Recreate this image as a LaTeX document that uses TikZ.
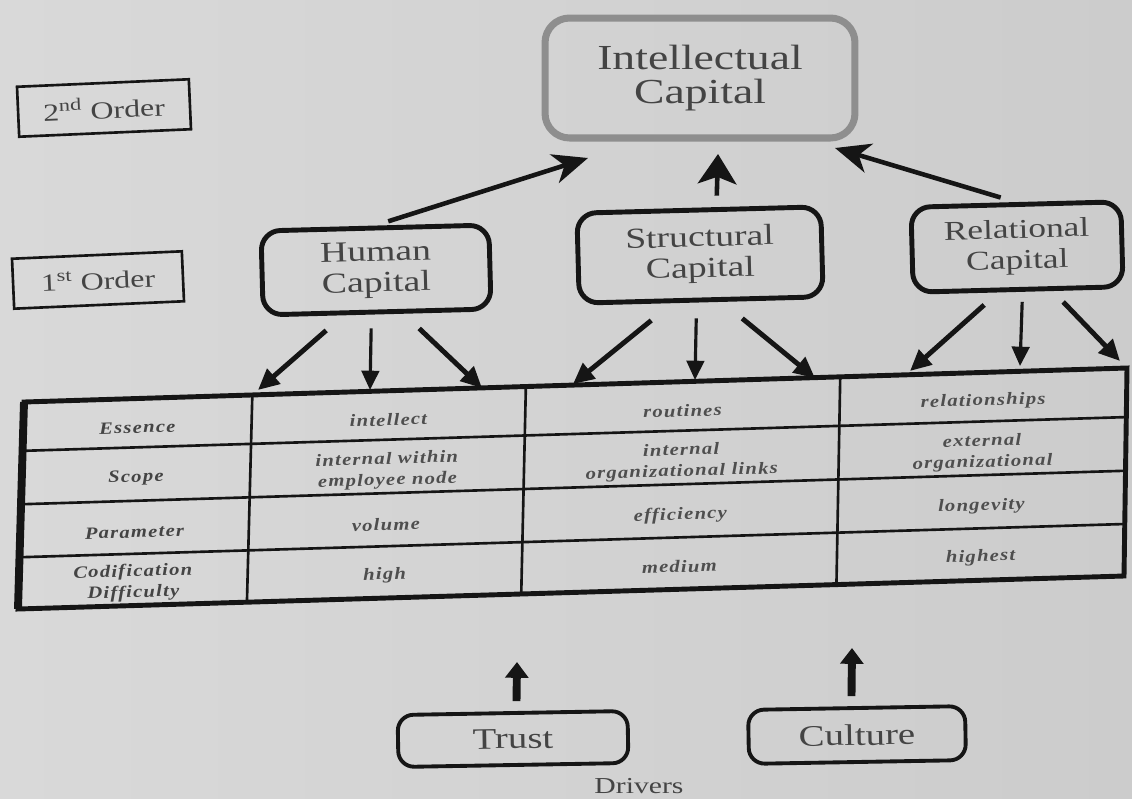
\documentclass[tikz,border=0pt]{standalone}
\usepackage{fontspec}
\newfontfamily\boxfont{Liberation Serif}[FakeStretch=1.3]
\newfontfamily\tabfont{Liberation Serif}[FakeStretch=1.2,LetterSpace=7]
\usetikzlibrary{arrows.meta,calc}
\definecolor{paperL}{HTML}{D9D9D9}
\definecolor{paperR}{HTML}{CCCCCC}
\definecolor{ink}{HTML}{151515}
\definecolor{txt}{HTML}{444444}
\definecolor{tabtxt}{HTML}{4E4E4E}
\definecolor{icgray}{HTML}{8E8E8E}
\tikzset{
  topbox/.style={draw=icgray, line width=4pt, rounded corners=14pt, text=txt,
    font=\boxfont\fontsize{20}{19}\selectfont, align=center, inner sep=0pt},
  lvlbox/.style={draw=ink, line width=2.8pt, rounded corners=11pt, text=txt,
    font=\boxfont\fontsize{16.5}{17.5}\selectfont, align=center, inner sep=0pt, rotate=1.5},
  orderbox/.style={draw=ink, line width=1.5pt, text=txt,
    font=\boxfont\fontsize{14}{16}\selectfont, inner sep=0pt, rotate=2.5},
  drvbox/.style={draw=ink, line width=2.2pt, rounded corners=9pt, text=txt,
    font=\boxfont\fontsize{17}{19}\selectfont, inner sep=0pt, rotate=1},
  uparr/.style={draw=ink, line width=2.6pt, -{Stealth[length=20pt,width=17pt,inset=6pt]}},
  bigup/.style={draw=ink, line width=2.6pt, -{Stealth[length=17pt,width=22pt,inset=4pt]}},
  darr/.style={draw=ink, line width=2.8pt, -{Triangle[length=12pt,width=11pt]}},
  vdarr/.style={draw=ink, line width=1.8pt, -{Triangle[length=11pt,width=10pt]}},
  drvarr/.style={draw=ink, line width=4.5pt, -{Triangle[length=9pt,width=13pt]}},
  outerline/.style={draw=ink, line width=2.8pt, line join=miter},
  innerline/.style={draw=ink, line width=1.5pt},
  cell/.style={font=\tabfont\bfseries\itshape\fontsize{9.8}{12}\selectfont,
    text=tabtxt, align=center, rotate=1.7, inner sep=0pt},
  label/.style={cell, text=ink!80},
}
\begin{document}
\begin{tikzpicture}[x=0.02cm, y={(0cm,-0.02cm)}]
  % paper
  \shade[left color=paperL, right color=paperR] (0,0) rectangle (1132,798);
  \useasboundingbox (0,0) rectangle (1132,798);

  % levels
  \node[orderbox, minimum width=3.44cm, minimum height=1.0cm] (o2) at (104,108)
    {2\textsuperscript{nd} Order};
  \node[orderbox, minimum width=3.4cm, minimum height=1.0cm] (o1) at (98,280)
    {1\textsuperscript{st} Order};

  % capital boxes
  \node[topbox, minimum width=6.2cm, minimum height=2.4cm] (ic) at (700,78)
    {Intellectual\\Capital};
  \node[lvlbox, minimum width=4.56cm, minimum height=1.68cm] (hc) at (376,270)
    {Human\\Capital};
  \node[lvlbox, minimum width=4.88cm, minimum height=1.8cm] (sc) at (700,255)
    {Structural\\Capital};
  \node[lvlbox, minimum width=4.2cm, minimum height=1.7cm, font=\boxfont\fontsize{15.5}{17.5}\selectfont]
    (rc) at (1017,247) {Relational\\Capital};

  % first order to second order
  \coordinate (icH) at (588,158);
  \coordinate (icS) at (718,154);
  \coordinate (icR) at (835,148);
  \draw[uparr, shorten <=8pt] (hc.north) -- (icH);
  \draw[bigup] ($(sc.north)+(18,-12)$) -- (icS);
  \draw[uparr, shorten <=9pt] (rc.north) -- (icR);

  % table frame
  \coordinate (TL) at (24,402);
  \coordinate (TR) at (1127,368);
  \coordinate (BL) at (18,609);
  \coordinate (BR) at (1124,576);
  \foreach \k/\u in {0/0,1/0.207,2/0.455,3/0.74,4/1}{
    \coordinate (T\k) at ($(TL)!\u!(TR)$);
    \coordinate (B\k) at ($(BL)!\u!(BR)$);
  }
  \foreach \k/\u in {0/0.1035,1/0.331,2/0.5975,3/0.87}{
    \coordinate (MT\k) at ($(TL)!\u!(TR)$);
    \coordinate (MB\k) at ($(BL)!\u!(BR)$);
  }
  \foreach \k in {1,2,3} \draw[innerline] (T\k) -- (B\k);
  \foreach \v in {0.236,0.494,0.75} \draw[innerline] ($(T0)!\v!(B0)$) -- ($(T4)!\v!(B4)$);
  \draw[outerline] (TL) -- (TR) -- (BR) -- (BL) -- cycle;
  \draw[draw=ink, line width=4.5pt] (TL) -- (BL);

  % table text
  \node[label] (l1) at ($(MT0)!0.14!(MB0)$) {Essence};
  \node[label] (l2) at ($(MT0)!0.385!(MB0)$) {Scope};
  \node[label] (l3) at ($(MT0)!0.645!(MB0)$) {Parameter};
  \node[label] (l4) at ($(MT0)!0.89!(MB0)$) {Codification\\Difficulty};

  \node[cell] (h1v) at ($(MT1)!0.14!(MB1)$) {intellect};
  \node[cell] (h2v) at ($(MT1)!0.385!(MB1)$) {internal within\\employee node};
  \node[cell] (h3v) at ($(MT1)!0.645!(MB1)$) {volume};
  \node[cell] (h4v) at ($(MT1)!0.89!(MB1)$) {high};

  \node[cell] (s1v) at ($(MT2)!0.14!(MB2)$) {routines};
  \node[cell] (s2v) at ($(MT2)!0.385!(MB2)$) {internal\\organizational links};
  \node[cell] (s3v) at ($(MT2)!0.645!(MB2)$) {efficiency};
  \node[cell] (s4v) at ($(MT2)!0.89!(MB2)$) {medium};

  \node[cell] (r1v) at ($(MT3)!0.14!(MB3)$) {relationships};
  \node[cell] (r2v) at ($(MT3)!0.385!(MB3)$) {external\\organizational};
  \node[cell] (r3v) at ($(MT3)!0.645!(MB3)$) {longevity};
  \node[cell] (r4v) at ($(MT3)!0.89!(MB3)$) {highest};

  % first order to the table
  \coordinate (h1) at (258,390);
  \coordinate (h2) at (370,390);
  \coordinate (h3) at (482,388);
  \coordinate (s1) at (573,384);
  \coordinate (s2) at (695,380);
  \coordinate (s3) at (815,378);
  \coordinate (r1) at (910,371);
  \coordinate (r2) at (1020,366);
  \coordinate (r3) at (1120,361);
  \draw[darr]  ($(hc.south)+(-51,16)$) -- (h1);
  \draw[vdarr] ($(hc.south)+(-6,14)$) -- (h2);
  \draw[darr]  ($(hc.south)+(42,14)$) -- (h3);
  \draw[darr]  ($(sc.south)+(-50,18)$) -- (s1);
  \draw[vdarr] ($(sc.south)+(-5,16)$) -- (s2);
  \draw[darr]  ($(sc.south)+(41,16)$) -- (s3);
  \draw[darr]  ($(rc.south)+(-34,13)$) -- (r1);
  \draw[vdarr] ($(rc.south)+(4,10)$) -- (r2);
  \draw[darr]  ($(rc.south)+(45,10)$) -- (r3);

  % drivers
  \node[drvbox, minimum width=4.6cm, minimum height=1.04cm] (trust) at (513,739) {Trust};
  \node[drvbox, minimum width=4.34cm, minimum height=1.08cm] (culture) at (857,735) {Culture};
  \node[font=\boxfont\fontsize{13}{15}\selectfont, text=txt, inner sep=0pt] (drv) at (639,786) {Drivers};
  \coordinate (tT) at (517,662);
  \coordinate (cT) at (852,648);
  \draw[drvarr] ($(trust.north)+(4,-10)$) -- (tT);
  \draw[drvarr] ($(culture.north)+(-5,-10)$) -- (cT);
\end{tikzpicture}
\end{document}
